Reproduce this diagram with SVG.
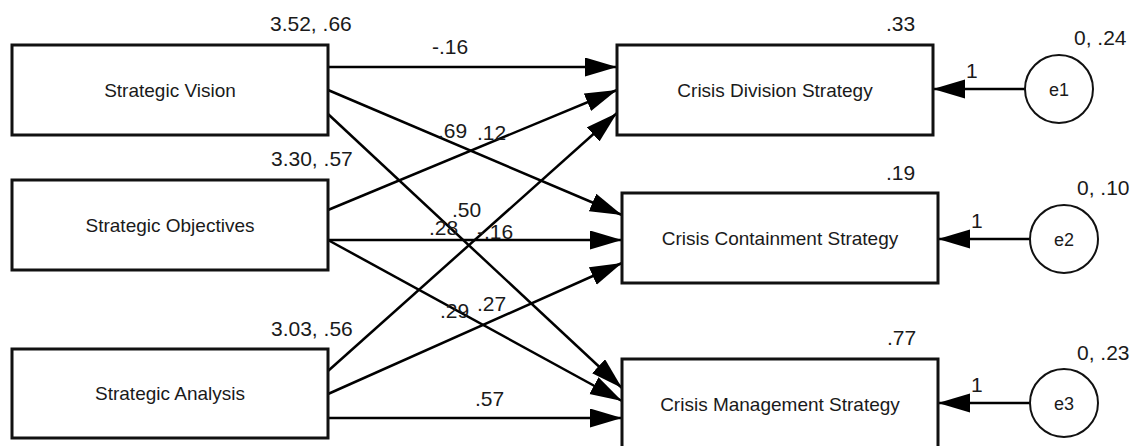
<svg xmlns="http://www.w3.org/2000/svg" width="1138" height="446" viewBox="0 0 1138 446">
<style>
.box{fill:#fff;stroke:#111;stroke-width:3}
.circ{fill:#fff;stroke:#111;stroke-width:2}
.lbl{font-family:"Liberation Sans",Arial,sans-serif;font-size:19px;fill:#1a1a1a;text-anchor:middle}
.num{font-family:"Liberation Sans",Arial,sans-serif;font-size:21px;fill:#1a1a1a}
.err{font-family:"Liberation Sans",Arial,sans-serif;font-size:18px;fill:#1a1a1a;text-anchor:middle}
.con{stroke:#000;stroke-width:2.5;fill:none;marker-end:url(#ah)}
</style>
<defs>
<marker id="ah" markerUnits="userSpaceOnUse" markerWidth="34" markerHeight="20" refX="32" refY="9.5" orient="auto">
<path d="M0,0 L32,9.5 L0,19 z" fill="#000"/>
</marker>
</defs>
<rect width="1138" height="446" fill="#fff"/>
<g id="connectors">
<line class="con" x1="328" y1="67" x2="617" y2="67"/>
<line class="con" x1="328" y1="90" x2="622" y2="215"/>
<line class="con" x1="328" y1="114" x2="622" y2="388"/>
<line class="con" x1="328" y1="210" x2="617" y2="90"/>
<line class="con" x1="328" y1="240" x2="622" y2="240"/>
<line class="con" x1="328" y1="240" x2="622" y2="401"/>
<line class="con" x1="328" y1="371" x2="617" y2="113"/>
<line class="con" x1="328" y1="394" x2="622" y2="263"/>
<line class="con" x1="328" y1="418" x2="622" y2="418"/>
<line class="con" x1="1025" y1="89" x2="933" y2="89"/>
<line class="con" x1="1030" y1="239" x2="938" y2="239"/>
<line class="con" x1="1030" y1="403" x2="938" y2="403"/>
</g>
<g id="connector-labels">
<text class="num" x="432" y="54">-.16</text>
<text class="num" x="438" y="138">.69</text>
<text class="num" x="477" y="140">.12</text>
<text class="num" x="452" y="217">.50</text>
<text class="num" x="429" y="235">.28</text>
<text class="num" x="477" y="239">-.16</text>
<text class="num" x="440" y="318">.29</text>
<text class="num" x="477" y="311">.27</text>
<text class="num" x="475" y="406">.57</text>
<text class="num" x="966" y="78">1</text>
<text class="num" x="971" y="228">1</text>
<text class="num" x="971" y="392">1</text>
</g>
<g id="strategic-vision">
<rect class="box" x="12" y="45" width="316" height="90"/>
<text class="lbl" x="170" y="97">Strategic Vision</text>
<text class="num" x="270" y="31">3.52, .66</text>
</g>
<g id="strategic-objectives">
<rect class="box" x="12" y="180" width="316" height="90"/>
<text class="lbl" x="170" y="232">Strategic Objectives</text>
<text class="num" x="271" y="166">3.30, .57</text>
</g>
<g id="strategic-analysis">
<rect class="box" x="12" y="349" width="316" height="89"/>
<text class="lbl" x="170" y="400">Strategic Analysis</text>
<text class="num" x="271" y="336">3.03, .56</text>
</g>
<g id="crisis-division">
<rect class="box" x="617" y="45" width="316" height="90"/>
<text class="lbl" x="775" y="97">Crisis Division Strategy</text>
<text class="num" x="886" y="31">.33</text>
</g>
<g id="crisis-containment">
<rect class="box" x="622" y="193" width="316" height="90"/>
<text class="lbl" x="780" y="245">Crisis Containment Strategy</text>
<text class="num" x="886" y="180">.19</text>
</g>
<g id="crisis-management">
<rect class="box" x="622" y="359" width="316" height="90"/>
<text class="lbl" x="780" y="411">Crisis Management Strategy</text>
<text class="num" x="887" y="345">.77</text>
</g>
<g id="e1">
<circle class="circ" cx="1059" cy="89" r="34"/>
<text class="err" x="1059" y="96">e1</text>
<text class="num" x="1074" y="45">0, .24</text>
</g>
<g id="e2">
<circle class="circ" cx="1064" cy="239" r="34"/>
<text class="err" x="1064" y="246">e2</text>
<text class="num" x="1077" y="195">0, .10</text>
</g>
<g id="e3">
<circle class="circ" cx="1064" cy="403" r="34"/>
<text class="err" x="1064" y="410">e3</text>
<text class="num" x="1077" y="360">0, .23</text>
</g>
</svg>
